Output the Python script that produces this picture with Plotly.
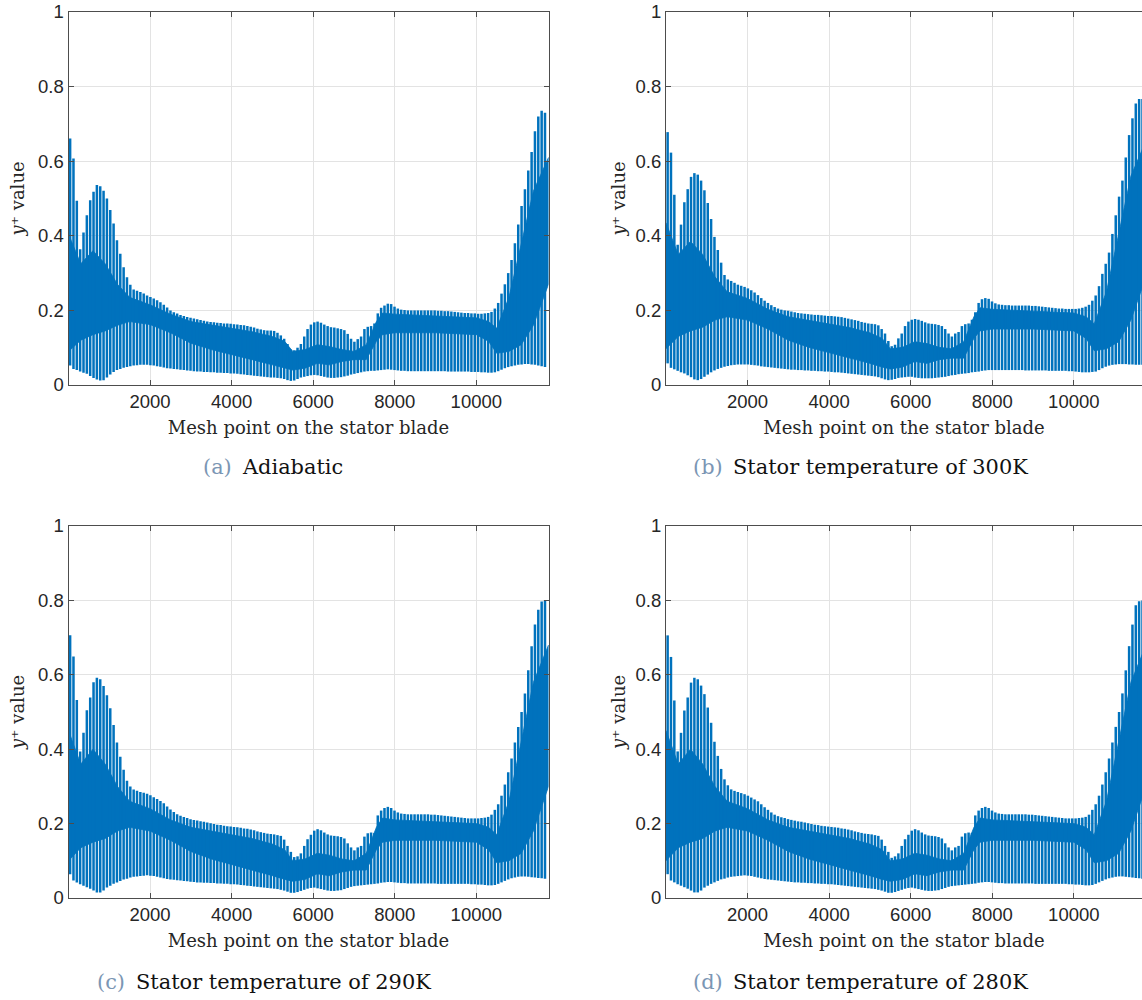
import plotly.graph_objects as go

# ---------------- data ----------------
# mesh index of each sampled spike (one wall-normal line every ~82 mesh points)
spike_mesh = list(range(40, 11700, 82))

# (a) Adiabatic
a_peak = [0.661, 0.607, 0.494, 0.364, 0.409, 0.455, 0.495, 0.518, 0.536, 0.533,
          0.521, 0.500, 0.469, 0.433, 0.388, 0.352, 0.316, 0.289, 0.269, 0.256,
          0.253, 0.249, 0.245, 0.240, 0.236, 0.232, 0.227, 0.222, 0.215, 0.208,
          0.200, 0.195, 0.192, 0.188, 0.185, 0.182, 0.180, 0.178, 0.176, 0.174,
          0.172, 0.170, 0.169, 0.168, 0.167, 0.166, 0.165, 0.165, 0.164, 0.163,
          0.162, 0.161, 0.160, 0.158, 0.156, 0.154, 0.151, 0.149, 0.147, 0.146,
          0.146, 0.145, 0.140, 0.133, 0.124, 0.110, 0.095, 0.093, 0.100, 0.110,
          0.130, 0.150, 0.162, 0.168, 0.170, 0.167, 0.162, 0.158, 0.155, 0.154,
          0.152, 0.150, 0.147, 0.137, 0.124, 0.116, 0.123, 0.130, 0.150, 0.156,
          0.158, 0.165, 0.192, 0.207, 0.213, 0.218, 0.217, 0.210, 0.205, 0.202,
          0.201, 0.200, 0.200, 0.200, 0.200, 0.200, 0.200, 0.200, 0.200, 0.200,
          0.199, 0.199, 0.198, 0.198, 0.197, 0.196, 0.195, 0.194, 0.193, 0.193,
          0.192, 0.192, 0.191, 0.191, 0.192, 0.193, 0.196, 0.205, 0.220, 0.245,
          0.270, 0.300, 0.335, 0.380, 0.430, 0.480, 0.525, 0.575, 0.625, 0.680,
          0.720, 0.735, 0.730]
a_trough = [0.052, 0.043, 0.040, 0.036, 0.033, 0.030, 0.024, 0.019, 0.015, 0.012,
            0.013, 0.020, 0.028, 0.035, 0.040, 0.043, 0.046, 0.048, 0.050, 0.052,
            0.053, 0.054, 0.054, 0.054, 0.053, 0.052, 0.050, 0.049, 0.047, 0.045,
            0.044, 0.043, 0.042, 0.041, 0.040, 0.039, 0.038, 0.037, 0.036, 0.036,
            0.035, 0.035, 0.034, 0.034, 0.033, 0.033, 0.032, 0.032, 0.031, 0.031,
            0.030, 0.029, 0.028, 0.027, 0.026, 0.025, 0.024, 0.023, 0.022, 0.021,
            0.020, 0.020, 0.019, 0.018, 0.016, 0.013, 0.011, 0.012, 0.016, 0.020,
            0.022, 0.024, 0.026, 0.027, 0.026, 0.024, 0.022, 0.020, 0.019, 0.019,
            0.020, 0.021, 0.023, 0.025, 0.028, 0.030, 0.032, 0.034, 0.036, 0.037,
            0.038, 0.038, 0.039, 0.040, 0.041, 0.042, 0.041, 0.040, 0.039, 0.038,
            0.038, 0.037, 0.037, 0.037, 0.037, 0.037, 0.037, 0.037, 0.037, 0.037,
            0.037, 0.037, 0.037, 0.036, 0.036, 0.036, 0.036, 0.036, 0.036, 0.036,
            0.035, 0.035, 0.035, 0.034, 0.034, 0.033, 0.033, 0.034, 0.037, 0.041,
            0.045, 0.048, 0.050, 0.052, 0.054, 0.055, 0.056, 0.056, 0.055, 0.054,
            0.052, 0.050, 0.048]

# (b) Stator temperature of 300K
b_peak = [0.678, 0.623, 0.510, 0.376, 0.430, 0.490, 0.525, 0.558, 0.568, 0.564,
          0.548, 0.522, 0.488, 0.445, 0.397, 0.362, 0.328, 0.295, 0.283, 0.279,
          0.274, 0.269, 0.266, 0.263, 0.259, 0.254, 0.248, 0.241, 0.233, 0.226,
          0.220, 0.214, 0.209, 0.205, 0.202, 0.200, 0.199, 0.197, 0.195, 0.193,
          0.192, 0.191, 0.190, 0.189, 0.188, 0.188, 0.187, 0.186, 0.185, 0.185,
          0.184, 0.183, 0.182, 0.180, 0.178, 0.176, 0.174, 0.172, 0.169, 0.167,
          0.165, 0.164, 0.163, 0.160, 0.150, 0.138, 0.118, 0.104, 0.108, 0.125,
          0.138, 0.158, 0.170, 0.175, 0.177, 0.175, 0.172, 0.168, 0.165, 0.164,
          0.163, 0.161, 0.158, 0.150, 0.138, 0.130, 0.138, 0.142, 0.158, 0.163,
          0.165, 0.175, 0.195, 0.220, 0.230, 0.233, 0.231, 0.224, 0.219, 0.216,
          0.215, 0.214, 0.214, 0.213, 0.213, 0.213, 0.213, 0.213, 0.213, 0.212,
          0.212, 0.211, 0.210, 0.209, 0.208, 0.207, 0.206, 0.205, 0.205, 0.204,
          0.204, 0.204, 0.204, 0.205, 0.207, 0.210, 0.215, 0.226, 0.240, 0.265,
          0.298, 0.325, 0.355, 0.405, 0.455, 0.505, 0.548, 0.610, 0.670, 0.715,
          0.755, 0.767, 0.767]
b_trough = [0.058, 0.046, 0.042, 0.038, 0.034, 0.031, 0.026, 0.021, 0.015, 0.013,
            0.016, 0.022, 0.028, 0.034, 0.039, 0.043, 0.046, 0.049, 0.051, 0.053,
            0.054, 0.055, 0.055, 0.055, 0.055, 0.054, 0.053, 0.052, 0.050, 0.049,
            0.048, 0.047, 0.046, 0.045, 0.044, 0.043, 0.042, 0.041, 0.041, 0.040,
            0.040, 0.039, 0.039, 0.038, 0.038, 0.037, 0.037, 0.036, 0.036, 0.035,
            0.034, 0.034, 0.033, 0.032, 0.031, 0.030, 0.029, 0.028, 0.027, 0.026,
            0.025, 0.024, 0.023, 0.021, 0.018, 0.015, 0.013, 0.014, 0.016, 0.019,
            0.020, 0.021, 0.022, 0.022, 0.020, 0.019, 0.018, 0.018, 0.018, 0.018,
            0.019, 0.020, 0.021, 0.022, 0.024, 0.026, 0.027, 0.029, 0.030, 0.031,
            0.032, 0.034, 0.035, 0.036, 0.038, 0.039, 0.040, 0.040, 0.040, 0.040,
            0.040, 0.040, 0.040, 0.040, 0.040, 0.040, 0.040, 0.039, 0.039, 0.039,
            0.039, 0.039, 0.039, 0.039, 0.038, 0.038, 0.038, 0.038, 0.038, 0.038,
            0.037, 0.037, 0.036, 0.035, 0.034, 0.034, 0.034, 0.035, 0.036, 0.040,
            0.045, 0.049, 0.052, 0.054, 0.055, 0.056, 0.056, 0.056, 0.055, 0.055,
            0.054, 0.054, 0.054]

# (c) Stator temperature of 290K
c_peak = [0.706, 0.649, 0.532, 0.394, 0.444, 0.505, 0.539, 0.580, 0.592, 0.588,
          0.570, 0.545, 0.510, 0.465, 0.418, 0.380, 0.345, 0.315, 0.300, 0.292,
          0.288, 0.285, 0.283, 0.280, 0.276, 0.271, 0.266, 0.261, 0.255, 0.246,
          0.238, 0.231, 0.225, 0.221, 0.218, 0.215, 0.212, 0.210, 0.208, 0.206,
          0.205, 0.203, 0.201, 0.199, 0.197, 0.196, 0.194, 0.193, 0.192, 0.191,
          0.190, 0.189, 0.187, 0.186, 0.184, 0.182, 0.179, 0.177, 0.175, 0.173,
          0.172, 0.171, 0.169, 0.167, 0.157, 0.140, 0.124, 0.110, 0.112, 0.120,
          0.140, 0.158, 0.170, 0.181, 0.185, 0.182, 0.176, 0.171, 0.168, 0.167,
          0.166, 0.164, 0.160, 0.147, 0.136, 0.128, 0.136, 0.140, 0.165, 0.174,
          0.176, 0.175, 0.222, 0.235, 0.242, 0.245, 0.242, 0.235, 0.230, 0.227,
          0.226, 0.225, 0.225, 0.225, 0.225, 0.225, 0.225, 0.225, 0.224, 0.224,
          0.223, 0.222, 0.221, 0.220, 0.219, 0.218, 0.217, 0.216, 0.215, 0.214,
          0.214, 0.214, 0.214, 0.215, 0.216, 0.218, 0.224, 0.237, 0.252, 0.275,
          0.305, 0.338, 0.375, 0.418, 0.460, 0.500, 0.550, 0.612, 0.677, 0.735,
          0.775, 0.797, 0.800]
c_trough = [0.064, 0.047, 0.042, 0.037, 0.033, 0.029, 0.025, 0.020, 0.015, 0.015,
            0.020, 0.028, 0.033, 0.038, 0.042, 0.046, 0.050, 0.052, 0.055, 0.057,
            0.058, 0.059, 0.060, 0.061, 0.060, 0.059, 0.057, 0.055, 0.053, 0.051,
            0.050, 0.049, 0.048, 0.047, 0.046, 0.045, 0.044, 0.043, 0.042, 0.042,
            0.041, 0.041, 0.040, 0.040, 0.039, 0.039, 0.038, 0.038, 0.037, 0.037,
            0.036, 0.035, 0.034, 0.033, 0.032, 0.031, 0.030, 0.029, 0.028, 0.027,
            0.026, 0.025, 0.024, 0.022, 0.020, 0.017, 0.014, 0.014, 0.016, 0.019,
            0.022, 0.025, 0.027, 0.028, 0.026, 0.024, 0.022, 0.020, 0.019, 0.019,
            0.020, 0.021, 0.024, 0.027, 0.030, 0.032, 0.033, 0.034, 0.035, 0.036,
            0.037, 0.038, 0.039, 0.041, 0.042, 0.043, 0.043, 0.042, 0.041, 0.040,
            0.040, 0.039, 0.039, 0.039, 0.039, 0.039, 0.039, 0.039, 0.039, 0.039,
            0.038, 0.038, 0.038, 0.038, 0.038, 0.038, 0.038, 0.038, 0.038, 0.038,
            0.037, 0.037, 0.036, 0.036, 0.035, 0.034, 0.034, 0.035, 0.038, 0.042,
            0.046, 0.050, 0.053, 0.055, 0.057, 0.058, 0.058, 0.057, 0.056, 0.055,
            0.054, 0.053, 0.052]

# (d) Stator temperature of 280K
d_peak = [0.706, 0.648, 0.531, 0.394, 0.444, 0.504, 0.539, 0.579, 0.592, 0.588,
          0.571, 0.548, 0.512, 0.471, 0.420, 0.382, 0.347, 0.319, 0.303, 0.292,
          0.288, 0.285, 0.282, 0.279, 0.275, 0.270, 0.265, 0.260, 0.252, 0.244,
          0.237, 0.230, 0.224, 0.220, 0.217, 0.215, 0.212, 0.210, 0.208, 0.206,
          0.205, 0.203, 0.201, 0.199, 0.197, 0.196, 0.194, 0.193, 0.192, 0.191,
          0.190, 0.189, 0.187, 0.186, 0.184, 0.182, 0.179, 0.177, 0.175, 0.173,
          0.172, 0.171, 0.169, 0.167, 0.157, 0.140, 0.124, 0.108, 0.112, 0.120,
          0.140, 0.158, 0.170, 0.181, 0.185, 0.182, 0.176, 0.171, 0.168, 0.167,
          0.166, 0.164, 0.160, 0.147, 0.136, 0.128, 0.136, 0.140, 0.165, 0.174,
          0.176, 0.175, 0.222, 0.235, 0.242, 0.245, 0.242, 0.235, 0.230, 0.227,
          0.226, 0.225, 0.225, 0.225, 0.225, 0.225, 0.225, 0.225, 0.224, 0.224,
          0.223, 0.222, 0.221, 0.220, 0.219, 0.218, 0.217, 0.216, 0.215, 0.214,
          0.214, 0.214, 0.214, 0.215, 0.216, 0.218, 0.224, 0.237, 0.252, 0.275,
          0.305, 0.338, 0.375, 0.418, 0.460, 0.500, 0.550, 0.612, 0.677, 0.735,
          0.787, 0.798, 0.800]
d_trough = [0.064, 0.047, 0.042, 0.037, 0.033, 0.029, 0.025, 0.020, 0.015, 0.015,
            0.020, 0.028, 0.033, 0.038, 0.042, 0.046, 0.050, 0.052, 0.055, 0.057,
            0.058, 0.059, 0.060, 0.061, 0.060, 0.059, 0.057, 0.055, 0.053, 0.051,
            0.050, 0.049, 0.048, 0.047, 0.046, 0.045, 0.044, 0.043, 0.042, 0.042,
            0.041, 0.041, 0.040, 0.040, 0.039, 0.039, 0.038, 0.038, 0.037, 0.037,
            0.036, 0.035, 0.034, 0.033, 0.032, 0.031, 0.030, 0.029, 0.028, 0.027,
            0.026, 0.025, 0.024, 0.022, 0.020, 0.017, 0.014, 0.014, 0.016, 0.019,
            0.022, 0.025, 0.027, 0.028, 0.026, 0.024, 0.022, 0.020, 0.019, 0.019,
            0.020, 0.021, 0.024, 0.027, 0.030, 0.032, 0.033, 0.034, 0.035, 0.036,
            0.037, 0.038, 0.039, 0.041, 0.042, 0.043, 0.043, 0.042, 0.041, 0.040,
            0.040, 0.039, 0.039, 0.039, 0.039, 0.039, 0.039, 0.039, 0.039, 0.039,
            0.038, 0.038, 0.038, 0.038, 0.038, 0.038, 0.038, 0.038, 0.038, 0.038,
            0.037, 0.037, 0.036, 0.036, 0.035, 0.034, 0.034, 0.035, 0.038, 0.042,
            0.046, 0.050, 0.053, 0.055, 0.057, 0.058, 0.058, 0.057, 0.056, 0.055,
            0.054, 0.053, 0.052]

# dense core band (where most mesh points of each line lie)
band_mesh = [0, 300, 600, 900, 1200, 1500, 2000, 2500, 3000, 3500, 4000, 4500,
             5000, 5300, 5500, 5800, 6100, 6400, 6700, 7000, 7300, 7550, 7700,
             8000, 9000, 10000, 10300, 10500, 10800, 11100, 11400, 11770]
a_band_hi = [0.405, 0.325, 0.360, 0.325, 0.270, 0.235, 0.215, 0.190, 0.170, 0.160,
             0.152, 0.143, 0.130, 0.117, 0.090, 0.095, 0.108, 0.103, 0.095, 0.090,
             0.108, 0.170, 0.193, 0.190, 0.185, 0.180, 0.170, 0.152, 0.235, 0.380,
             0.520, 0.610]
a_band_lo = [0.090, 0.120, 0.135, 0.145, 0.160, 0.170, 0.162, 0.140, 0.112, 0.095,
             0.081, 0.068, 0.054, 0.045, 0.040, 0.045, 0.058, 0.054, 0.063, 0.068,
             0.068, 0.117, 0.135, 0.140, 0.140, 0.135, 0.117, 0.085, 0.090, 0.108,
             0.160, 0.270]
b_band_hi = [0.435, 0.350, 0.385, 0.350, 0.290, 0.250, 0.232, 0.203, 0.183, 0.174,
             0.164, 0.154, 0.140, 0.125, 0.097, 0.101, 0.116, 0.111, 0.101, 0.097,
             0.116, 0.183, 0.207, 0.203, 0.198, 0.193, 0.183, 0.164, 0.250, 0.405,
             0.560, 0.655]
b_band_lo = [0.097, 0.130, 0.145, 0.155, 0.174, 0.183, 0.174, 0.150, 0.120, 0.101,
             0.087, 0.072, 0.058, 0.048, 0.043, 0.048, 0.063, 0.058, 0.068, 0.072,
             0.072, 0.125, 0.145, 0.150, 0.150, 0.145, 0.125, 0.092, 0.097, 0.116,
             0.174, 0.290]
c_band_hi = [0.450, 0.360, 0.400, 0.360, 0.300, 0.260, 0.240, 0.210, 0.190, 0.180,
             0.170, 0.160, 0.145, 0.130, 0.100, 0.105, 0.120, 0.115, 0.105, 0.100,
             0.120, 0.190, 0.215, 0.210, 0.205, 0.200, 0.190, 0.170, 0.260, 0.420,
             0.580, 0.680]
c_band_lo = [0.100, 0.135, 0.150, 0.160, 0.180, 0.190, 0.180, 0.155, 0.125, 0.105,
             0.090, 0.075, 0.060, 0.050, 0.045, 0.050, 0.065, 0.060, 0.070, 0.075,
             0.075, 0.130, 0.150, 0.155, 0.155, 0.150, 0.130, 0.095, 0.100, 0.120,
             0.180, 0.300]
d_band_hi = [0.450, 0.360, 0.400, 0.360, 0.300, 0.260, 0.240, 0.210, 0.190, 0.180,
             0.170, 0.160, 0.145, 0.130, 0.100, 0.105, 0.120, 0.115, 0.105, 0.100,
             0.120, 0.190, 0.215, 0.210, 0.205, 0.200, 0.190, 0.170, 0.260, 0.420,
             0.580, 0.680]
d_band_lo = [0.100, 0.135, 0.150, 0.160, 0.180, 0.190, 0.180, 0.155, 0.125, 0.105,
             0.090, 0.075, 0.060, 0.050, 0.045, 0.050, 0.065, 0.060, 0.070, 0.075,
             0.075, 0.130, 0.150, 0.155, 0.155, 0.150, 0.130, 0.095, 0.100, 0.120,
             0.180, 0.300]

captions = ["(a)", "(b)", "(c)", "(d)"]
caption_text = ["Adiabatic", "Stator temperature of 300K",
                "Stator temperature of 290K", "Stator temperature of 280K"]
x_ticks = [2000, 4000, 6000, 8000, 10000]
x_ticktext = ["2000", "4000", "6000", "8000", "10000"]
y_ticks = [0, 0.2, 0.4, 0.6, 0.8, 1]
y_ticktext = ["0", "0.2", "0.4", "0.6", "0.8", "1"]

# ---------------- style ----------------
BLUE = "#0072BD"
AX = "#4d4d4d"
GRID = "#e3e3e3"
TICKFONT = dict(family="Liberation Sans, Arial, sans-serif", size=18.5, color="#262626")
SERIF = "DejaVu Serif, serif"
CAPSIZE = 20.9
TITLESIZE = 18

W, H = 1142, 1000
xdom = [[68.5 / W, 548.5 / W], [666.0 / W, 1.0]]
ytop = [[12, 385], [526, 898]]            # pixel top/bottom of each row
ydom = [[1 - b / H, 1 - t / H] for t, b in ytop]
xrng = [[0, 11770], [0, (W - 666.0) / 480.0 * 11770]]
ylab_x = [17, 618]                        # pixel centre of the rotated y label
cap_x = [[202, 241], [692, 732], [96, 135], [692, 732]]
cap_y = [467, 982]

panels = [
    (a_peak, a_trough, a_band_hi, a_band_lo),
    (b_peak, b_trough, b_band_hi, b_band_lo),
    (c_peak, c_trough, c_band_hi, c_band_lo),
    (d_peak, d_trough, d_band_hi, d_band_lo),
]

fig = go.Figure()
layout = {}
annotations = []
for i, (pk, tr, bh, bl) in enumerate(panels):
    assert len(pk) == len(spike_mesh) == len(tr)
    assert len(bh) == len(band_mesh) == len(bl)
    row, col = divmod(i, 2)
    n = "" if i == 0 else str(i + 1)
    xa, ya = "x" + n, "y" + n

    fig.add_trace(go.Scatter(
        x=band_mesh + band_mesh[::-1], y=bh + bl[::-1],
        fill="toself", fillcolor=BLUE, mode="lines",
        line=dict(width=0.8, color=BLUE), xaxis=xa, yaxis=ya,
        showlegend=False, hoverinfo="skip"))

    xs, ys = [], []
    for m, p, t in zip(spike_mesh, pk, tr):
        xs += [m, m, None]
        ys += [t, p, None]
    fig.add_trace(go.Scatter(
        x=xs, y=ys, mode="lines", line=dict(width=2.5, color=BLUE),
        xaxis=xa, yaxis=ya, showlegend=False, connectgaps=False))

    layout["xaxis" + n] = dict(
        domain=xdom[col], range=xrng[col], anchor=ya, automargin=False,
        tickvals=x_ticks, ticktext=x_ticktext, ticks="inside", ticklen=5,
        tickcolor=AX, showline=True, linecolor=AX, linewidth=1, mirror="ticks",
        showgrid=True, gridcolor=GRID, gridwidth=1, zeroline=False,
        tickfont=TICKFONT,
        title=dict(text="Mesh point on the stator blade",
                   font=dict(family=SERIF, size=TITLESIZE, color="#262626"),
                   standoff=10))
    layout["yaxis" + n] = dict(
        domain=ydom[row], range=[0, 1], anchor=xa, automargin=False,
        tickvals=y_ticks, ticktext=y_ticktext, ticks="inside", ticklen=5,
        tickcolor=AX, showline=True, linecolor=AX, linewidth=1,
        mirror=("ticks" if col == 0 else False),
        showgrid=True, gridcolor=GRID, gridwidth=1, zeroline=False,
        tickfont=TICKFONT)

    # rotated y label "y⁺ value" (italic y), centred on the plot height
    yc = (ytop[row][0] + ytop[row][1]) / 2.0
    split = yc + 27
    annotations.append(dict(
        x=ylab_x[col] / W, y=1 - split / H, xref="paper", yref="paper",
        showarrow=False, textangle=-90, xanchor="center", yanchor="top",
        borderpad=0, yshift=2,
        text="y", font=dict(family=SERIF, size=TITLESIZE, color="#262626",
                            style="italic")))
    annotations.append(dict(
        x=ylab_x[col] / W, y=1 - split / H, xref="paper", yref="paper",
        showarrow=False, textangle=-90, xanchor="center", yanchor="bottom",
        borderpad=0, yshift=-1,
        text="⁺ value", font=dict(family=SERIF, size=TITLESIZE, color="#262626")))

    # caption: coloured sub-figure label + text
    lx, tx = cap_x[i]
    cy = 1 - cap_y[row] / H
    annotations.append(dict(
        x=lx / W, y=cy, xref="paper", yref="paper", showarrow=False,
        xanchor="left", yanchor="middle", text=captions[i], borderpad=0,
        font=dict(family=SERIF, size=CAPSIZE, color="#7b96b4")))
    annotations.append(dict(
        x=tx / W, y=cy, xref="paper", yref="paper", showarrow=False,
        xanchor="left", yanchor="middle", text=caption_text[i], borderpad=0,
        font=dict(family=SERIF, size=CAPSIZE, color="#111111")))

fig.update_layout(
    width=W, height=H,
    margin=dict(l=0, r=0, t=0, b=0, pad=0, autoexpand=False),
    paper_bgcolor="white", plot_bgcolor="white",
    annotations=annotations, **layout)

fig.write_html("out.html")
